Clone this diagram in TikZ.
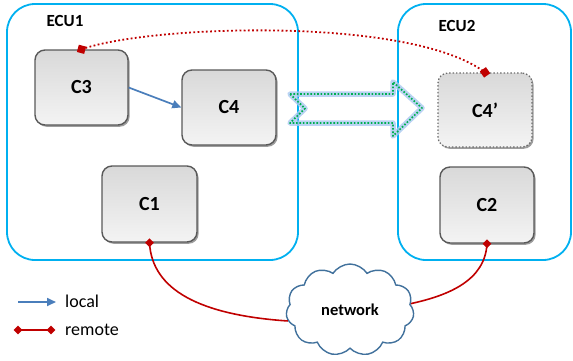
\documentclass[tikz,border=0pt]{standalone}
\usepackage{fontspec}
\setmainfont{Carlito}
\usetikzlibrary{shapes.symbols,shapes.geometric,arrows.meta,shadows}
\definecolor{ecu}{HTML}{00B0F0}
\definecolor{rem}{HTML}{C00000}
\definecolor{loc}{HTML}{4A7EBB}
\definecolor{grn}{HTML}{00B050}
\definecolor{cld}{HTML}{41719C}
\definecolor{bord}{HTML}{595959}
\definecolor{glow}{HTML}{A9C8F0}
\begin{document}
\begin{tikzpicture}[x=1pt,y=-1pt,
  ecubox/.style={draw=ecu, line width=1.8pt, rounded corners=28pt, inner sep=0},
  ecutext/.style={font=\fontsize{17}{20}\selectfont\bfseries, inner sep=0},
  comp/.style={draw=bord, line width=1.4pt, rounded corners=10pt,
    top color=gray!30, bottom color=gray!9,
    drop shadow={shadow xshift=1.6pt, shadow yshift=-1.8pt, opacity=0.55, fill=black!70},
    font=\fontsize{20}{24}\selectfont\bfseries, minimum width=93pt, minimum height=75pt, inner sep=0},
  ghost/.style={comp, draw=gray!85!black, dotted, line width=1.3pt},
  rsq/.style={rectangle, fill=rem, inner sep=0, minimum size=7.5pt},
  rdiam/.style={diamond, fill=rem, inner sep=0, minimum width=9pt, minimum height=9pt},
  remline/.style={draw=rem, line width=1.6pt},
  locline/.style={draw=loc, line width=1.7pt, -{Triangle[length=9pt,width=8pt]}},
  legtext/.style={font=\fontsize{18}{22}\selectfont, anchor=west, inner sep=0},
]
\useasboundingbox (0,0) rectangle (573,360);

% ECU boxes
\node[ecubox, minimum width=291pt, minimum height=256pt] (ecu1) at (152.5,132) {};
\node[ecubox, minimum width=173pt, minimum height=256pt] (ecu2) at (484.5,132) {};
\node[ecutext] (ecu1t) at (65,21) {ECU1};
\node[ecutext] (ecu2t) at (457,26) {ECU2};

% green migration arrow (glow + dotted outline)
\path[draw=glow, line width=5.5pt, opacity=0.8, line join=round]
  (290,94) -- (393,94) -- (393,82) -- (422,108) -- (393,136) -- (393,123) -- (290,123) -- (305,108.5) -- cycle;
\path[draw=grn, line width=1.7pt, dash pattern=on 1.6pt off 1.8pt, line join=round]
  (290,94) -- (393,94) -- (393,82) -- (422,108) -- (393,136) -- (393,123) -- (290,123) -- (305,108.5) -- cycle;

% components
\node[comp] (C3) at (81.5,87.5) {C3};
\node[comp, minimum width=94pt] (C4) at (229,107.5) {C4};
\node[ghost, minimum width=94pt, minimum height=74pt] (C4p) at (485,110) {C4’};
\node[comp, minimum width=95pt, minimum height=76pt] (C1) at (149.5,204) {C1};
\node[comp, minimum width=94pt, minimum height=76pt] (C2) at (487,205) {C2};

% network cloud
\node[cloud, cloud puffs=11, cloud puff arc=115, cloud ignores aspect, draw=cld, line width=1.4pt, fill=white,
  minimum width=128pt, minimum height=92pt, inner sep=0, font=\fontsize{16.5}{20}\selectfont\bfseries]
  (net) at (350,310) {network};

% local call
\draw[locline] (C3.east) -- (C4.west);

% remote (dotted) from C3 to C4'
\draw[draw=rem, line width=1.8pt, dash pattern=on 1.8pt off 2.4pt]
  (C3.north) .. controls (150,25) and (410,16) .. (C4p.north);
\node[rsq, rotate=-15] (m3) at (C3.north) {};
\node[rsq, rotate=35] (m4) at (C4p.north) {};

% remote connections to network
\draw[remline] (C1.south) .. controls (152,290) and (200,315) .. (net.190);
\draw[remline] (C2.south) .. controls (485,280) and (450,295) .. (net.6);
\node[rdiam] (m1) at (C1.south) {};
\node[rdiam] (m2) at (C2.south) {};

% legend
\coordinate (la) at (18,302);
\coordinate (lb) at (56,302);
\coordinate (ra) at (18,330);
\coordinate (rb) at (51,330);
\draw[locline] (la) -- (lb);
\draw[remline] (ra) -- (rb);
\node[rdiam] (d1) at (ra) {};
\node[rdiam] (d2) at (rb) {};
\node[legtext] (lt) at (65,301) {local};
\node[legtext] (rt) at (65,330) {remote};
\end{tikzpicture}
\end{document}
